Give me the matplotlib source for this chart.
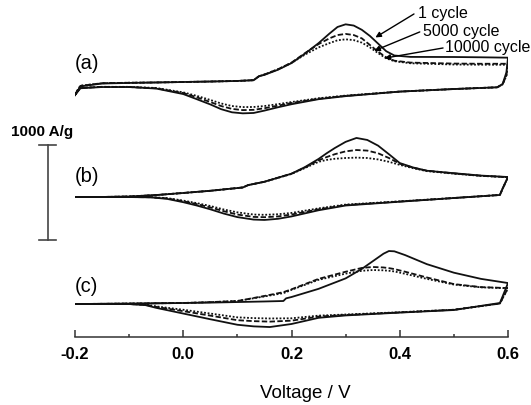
import numpy as np
import matplotlib.pyplot as plt

plt.rcParams['font.family'] = ['Liberation Sans', 'DejaVu Sans']
plt.rcParams['axes.unicode_minus'] = False

# --- CV data, current in A/g (each panel relative to its own baseline) ---
CYCLES = ["1 cycle", "5000 cycle", "10000 cycle"]

# (a)
A_FWD_V = [-0.2, -0.19, -0.15, -0.1, -0.05, 0.0, 0.05, 0.1, 0.13, 0.14, 0.15, 0.175, 0.2, 0.225,
           0.25, 0.27, 0.285, 0.3, 0.315, 0.33, 0.345, 0.36, 0.375, 0.39, 0.42, 0.5, 0.55, 0.6]
A_FWD_1 = [-117, -25, 5, 11, 16, 21, 26, 32, 40, 82, 96, 150, 220, 320,
           430, 530, 600, 628, 615, 570, 505, 425, 345, 300, 285, 284, 281, 277]
A_FWD_5000 = [-110, -20, 8, 13, 16, 21, 26, 32, 40, 82, 100, 155, 225, 325,
              420, 480, 515, 527, 515, 480, 410, 340, 280, 245, 225, 215, 213, 213]
A_FWD_10000 = [-105, -18, 8, 13, 16, 21, 26, 32, 40, 82, 100, 155, 222, 310,
               385, 430, 460, 470, 462, 435, 385, 325, 270, 240, 218, 205, 203, 202]
A_REV_V = [0.6, 0.597, 0.59, 0.58, 0.5, 0.4, 0.3, 0.25, 0.2, 0.175, 0.15, 0.13, 0.11, 0.09,
           0.07, 0.05, 0.025, 0.0, -0.05, -0.1, -0.15, -0.19, -0.2]
A_REV_1 = [277, 120, 0, -35, -53, -80, -128, -160, -213, -245, -280, -305, -309, -298,
           -265, -215, -160, -106, -48, -32, -32, -45, -117]
A_REV_5000 = [213, 90, -5, -35, -53, -80, -125, -155, -200, -228, -255, -272, -275, -262,
              -232, -190, -140, -95, -45, -32, -30, -42, -110]
A_REV_10000 = [202, 85, -5, -35, -53, -80, -122, -150, -190, -212, -232, -242, -243, -232,
               -205, -168, -125, -88, -42, -30, -30, -40, -105]

# (b)
B_FWD_V = [-0.2, -0.15, -0.1, -0.05, 0.0, 0.05, 0.1, 0.11, 0.12, 0.15, 0.2, 0.225, 0.25,
           0.265, 0.28, 0.3, 0.32, 0.34, 0.36, 0.38, 0.4, 0.425, 0.45, 0.5, 0.55, 0.6]
B_FWD_1 = [-11, -10, -5, 10, 32, 55, 84, 90, 115, 150, 235, 305, 390,
           450, 505, 570, 611, 590, 530, 440, 347, 300, 266, 240, 215, 200]
B_FWD_5000 = [-11, -10, -5, 10, 32, 55, 84, 90, 115, 150, 235, 300, 375,
              410, 440, 470, 484, 478, 450, 400, 340, 298, 266, 238, 213, 198]
B_FWD_10000 = [-11, -10, -5, 10, 32, 55, 84, 90, 115, 150, 232, 295, 360,
               380, 392, 400, 404, 400, 385, 360, 328, 292, 262, 235, 212, 198]
B_REV_V = [0.6, 0.59, 0.585, 0.5, 0.4, 0.3, 0.25, 0.2, 0.175, 0.15, 0.13, 0.1, 0.075,
           0.05, 0.025, 0.0, -0.03, -0.06, -0.1, -0.2]
B_REV_1 = [200, 80, 11, -21, -60, -100, -150, -215, -240, -252, -248, -222, -185,
           -140, -100, -65, -30, -14, -11, -11]
B_REV_5000 = [198, 75, 11, -21, -58, -95, -140, -195, -215, -223, -220, -195, -160,
              -120, -85, -55, -25, -13, -11, -11]
B_REV_10000 = [198, 75, 11, -21, -56, -90, -130, -178, -192, -198, -195, -172, -142,
               -105, -75, -48, -22, -12, -11, -11]

# (c)
C_FWD_V = [-0.2, -0.1, 0.0, 0.05, 0.1, 0.15, 0.185, 0.19, 0.2, 0.25, 0.3, 0.33, 0.35,
           0.37, 0.38, 0.39, 0.41, 0.45, 0.5, 0.55, 0.6]
C_FWD_1 = [0, 5, 11, 15, 21, 27, 32, 60, 74, 160, 270, 370, 450,
           530, 558, 555, 515, 420, 330, 265, 221]
C_FWD_5000 = [0, 5, 11, 20, 32, 85, 125, 135, 155, 265, 340, 380, 390,
              385, 378, 368, 340, 280, 210, 178, 168]
C_FWD_10000 = [0, 5, 11, 20, 32, 80, 115, 125, 150, 255, 320, 350, 358,
               355, 350, 343, 318, 265, 205, 176, 166]
C_REV_V = [0.6, 0.59, 0.585, 0.5, 0.4, 0.3, 0.25, 0.2, 0.16, 0.13, 0.1, 0.05, 0.0,
           -0.05, -0.07, -0.1, -0.2]
C_REV_1 = [221, 80, 11, -63, -90, -120, -145, -210, -242, -235, -218, -160, -100,
           -40, -11, 0, 0]
C_REV_5000 = [168, 60, 5, -60, -88, -115, -132, -175, -185, -180, -170, -122, -75,
              -30, -8, 0, 0]
C_REV_10000 = [166, 60, 5, -60, -86, -110, -122, -150, -152, -148, -140, -100, -60,
               -25, -6, 0, 0]

PANELS = [
    ("(a)", 0, A_FWD_V, [A_FWD_1, A_FWD_5000, A_FWD_10000], A_REV_V, [A_REV_1, A_REV_5000, A_REV_10000]),
    ("(b)", -1179, B_FWD_V, [B_FWD_1, B_FWD_5000, B_FWD_10000], B_REV_V, [B_REV_1, B_REV_5000, B_REV_10000]),
    ("(c)", -2316, C_FWD_V, [C_FWD_1, C_FWD_5000, C_FWD_10000], C_REV_V, [C_REV_1, C_REV_5000, C_REV_10000]),
]
LABEL_Y = [211, -969, -2127]

XTICKS = [-0.2, 0.0, 0.2, 0.4, 0.6]
XTICK_LABELS = ["-0.2", "0.0", "0.2", "0.4", "0.6"]

styles = [dict(ls="-"), dict(ls=(0, (3.0, 1.3))), dict(ls=(0, (1.0, 1.0)))]

fig = plt.figure(figsize=(5.31, 4.05), dpi=100)
ax = fig.add_axes([75 / 531, 0.1667, 433 / 531, 0.8333])

for (lab, off, fv, fis, rv, ris), ly in zip(PANELS, LABEL_Y):
    for fi, ri, st in zip(fis, ris, styles):
        v = np.concatenate([fv, rv])
        i = np.concatenate([fi, ri]) + off
        ax.plot(v, i, color="#111111", lw=1.3, **st)
    ax.text(-0.2, ly, lab, fontsize=14.5, ha="left", va="center")

# arrows + legend texts for (a)
ann = [("1 cycle", (0.434, 737), (0.4263, 737), (0.355, 490)),
       ("5000 cycle", (0.443, 548), (0.437, 548), (0.353, 350)),
       ("10000 cycle", (0.4836, 379), (0.480, 379), (0.372, 272))]
for txt, tpos, tail, head in ann:
    ax.text(tpos[0], tpos[1], txt, fontsize=11.5, ha="left", va="center")
    ax.annotate("", xy=head, xytext=tail,
                arrowprops=dict(arrowstyle="-|>", color="black", lw=1.0,
                                mutation_scale=8, shrinkA=0, shrinkB=0))

# scale bar 1000 A/g
bx = -0.2499
ax.plot([bx, bx], [-642, -1642], color="#444444", lw=1.2, clip_on=False)
for yy in (-642, -1642):
    ax.plot([bx - 0.0157, bx + 0.0157], [yy, yy], color="#444444", lw=1.2, clip_on=False)
ax.text(-0.261, -505, "1000 A/g", fontsize=11, fontweight="bold", ha="center", va="center")

ax.set_xlim(-0.2, 0.6)
ax.set_ylim(-2668, 884)
for s in ("left", "right", "top"):
    ax.spines[s].set_visible(False)
ax.spines["bottom"].set_color("#333333")
ax.spines["bottom"].set_linewidth(1.1)
ax.set_yticks([])
ax.set_xticks(XTICKS)
ax.set_xticklabels(XTICK_LABELS, fontsize=12, fontweight="bold")
ax.set_xticks([-0.1, 0.1, 0.3, 0.5], minor=True)
ax.tick_params(axis="x", which="major", direction="in", length=5, width=1.1, color="#333333", pad=7)
ax.tick_params(axis="x", which="minor", direction="in", length=2.5, width=1.1, color="#333333")

fig.text(305 / 531, 1 - 393 / 405, "Voltage / V", fontsize=13.5, ha="center", va="center")

fig.savefig("out.png", dpi=100)
